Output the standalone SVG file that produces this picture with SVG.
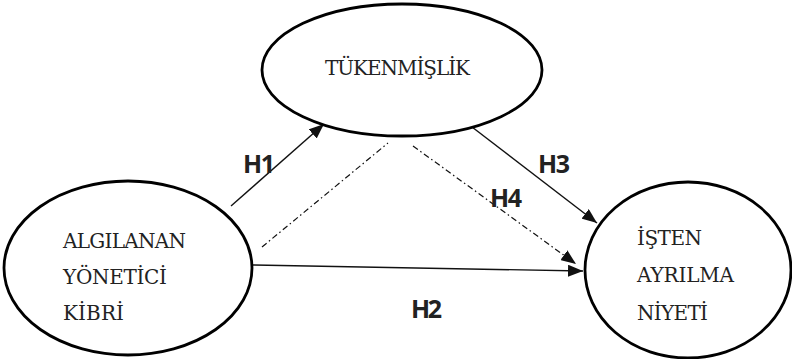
<svg xmlns="http://www.w3.org/2000/svg" width="792" height="359" viewBox="0 0 792 359">
<style>
.node{fill:#fff;stroke:#000;stroke-width:2.8}
.lbl{font-family:"DejaVu Serif","Liberation Serif",serif;font-size:20px;fill:#222}
.h{font-family:"Open Sans","Liberation Sans",sans-serif;font-weight:700;font-size:25px;fill:#222}
.ln{stroke:#111;stroke-width:1.4;fill:none}
.dd{stroke:#111;stroke-width:1.2;fill:none;stroke-dasharray:6 3 1.5 3}
</style>
<defs>
<marker id="ah" markerUnits="userSpaceOnUse" markerWidth="16" markerHeight="12" refX="15" refY="6" orient="auto">
<path d="M0,0 L15,6 L0,12 z" fill="#111"/>
</marker>
</defs>
<rect width="792" height="359" fill="#fff"/>
<g id="connectors">
<line class="ln" x1="231" y1="206" x2="324" y2="124" marker-end="url(#ah)"/>
<line class="ln" x1="472" y1="127" x2="597" y2="223" marker-end="url(#ah)"/>
<line class="dd" x1="413" y1="146" x2="576" y2="264" marker-end="url(#ah)"/>
<line class="ln" x1="252" y1="265" x2="583" y2="271" marker-end="url(#ah)"/>
<line class="dd" x1="262" y1="247" x2="388" y2="143"/>
<text class="h" x="243" y="173" textLength="32">H1</text>
<text class="h" x="538" y="173" textLength="32">H3</text>
<text class="h" x="490" y="207" textLength="32">H4</text>
<text class="h" x="411" y="318" textLength="31">H2</text>
</g>
<g id="tukenmislik">
<ellipse class="node" cx="402" cy="70" rx="140" ry="66"/>
<text class="lbl" x="325" y="75" textLength="145">TÜKENMİŞLİK</text>
</g>
<g id="algilanan">
<ellipse class="node" cx="128" cy="268" rx="124" ry="87"/>
<text class="lbl" x="63" y="248" textLength="123">ALGILANAN</text>
<text class="lbl" x="63" y="284" textLength="104">YÖNETİCİ</text>
<text class="lbl" x="63" y="320" textLength="61">KİBRİ</text>
</g>
<g id="isten">
<ellipse class="node" cx="688" cy="270" rx="103" ry="88"/>
<text class="lbl" x="637" y="245" textLength="65">İŞTEN</text>
<text class="lbl" x="637" y="282" textLength="97">AYRILMA</text>
<text class="lbl" x="637" y="320" textLength="71">NİYETİ</text>
</g>
</svg>
